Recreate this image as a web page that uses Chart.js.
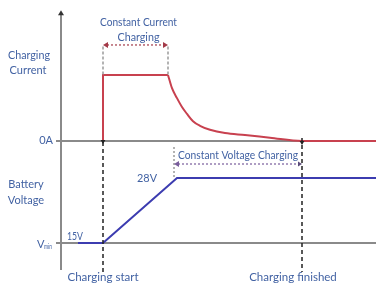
<!DOCTYPE html>
<html><head><meta charset="utf-8">
<script src="https://cdn.jsdelivr.net/npm/chart.js@4"></script>
<style>html,body{margin:0;padding:0;background:#fff}#wrap{width:376px;height:287px;position:relative}</style>
</head><body><div id="wrap"><canvas id="c"></canvas></div>
<script>
// ---- data (time in arbitrary units; 0 = vertical axis) ----
const stepTime = [21, 21, 53.5];
const stepAmps = [0, 10, 10];
const decayTime = [53.5, 55.5, 58, 60.5, 63, 66, 69.5, 74.5, 82, 92, 104.5, 120.5, 157.5];
const decayAmps = [10, 8.0, 6.5, 5.15, 4.1, 3.0, 2.3, 1.7, 1.2, 0.9, 0.5, 0, 0];
const voltageTime = [8.5, 21, 58, 157.5];
const voltageVolts = [15, 15, 28, 28];
const phaseNames = ['start', 'ccEnd', 'cvStart', 'finish'];
const phaseTimes = [21, 53.5, 56.5, 120.5];
const currentLevelLabels = ['0A'];
const voltageLevelLabels = ['15V', '28V'];
const panelLabels = [['Charging', 'Current'], ['Battery', 'Voltage']];
const phaseLabels = [['Constant Current', 'Charging'], ['Constant Voltage Charging']];
const eventLabels = ['Charging start', 'Charging finished'];

const phase = {};
phaseNames.forEach((n, i) => phase[n] = phaseTimes[i]);

const toXY = (xs, ys) => xs.map((x, i) => ({ x, y: ys[i] }));

const TEXT = '#4262a3';
const FONT = 'Lato, "Liberation Sans", sans-serif';

function arrowHead(ctx, x, y, dir, size, color) {
  ctx.save();
  ctx.fillStyle = color;
  ctx.beginPath();
  if (dir === 'left') { ctx.moveTo(x, y); ctx.lineTo(x + size, y - size * 0.6); ctx.lineTo(x + size, y + size * 0.6); }
  if (dir === 'right') { ctx.moveTo(x, y); ctx.lineTo(x - size, y - size * 0.6); ctx.lineTo(x - size, y + size * 0.6); }
  if (dir === 'up') { ctx.moveTo(x, y); ctx.lineTo(x - size * 0.6, y + size); ctx.lineTo(x + size * 0.6, y + size); }
  if (dir === 'down') { ctx.moveTo(x, y); ctx.lineTo(x - size * 0.6, y - size); ctx.lineTo(x + size * 0.6, y - size); }
  ctx.closePath(); ctx.fill();
  ctx.restore();
}
function seg(ctx, x1, y1, x2, y2, color, w, dash) {
  ctx.save();
  ctx.strokeStyle = color; ctx.lineWidth = w; ctx.setLineDash(dash || []);
  ctx.beginPath(); ctx.moveTo(x1, y1); ctx.lineTo(x2, y2); ctx.stroke();
  ctx.restore();
}
function text(ctx, s, x, y, align, size, maxW) {
  ctx.save();
  ctx.fillStyle = TEXT; ctx.font = size + 'px ' + FONT;
  ctx.textAlign = align || 'center'; ctx.textBaseline = 'middle';
  if (maxW) ctx.fillText(s, x, y, maxW); else ctx.fillText(s, x, y);
  ctx.restore();
}

const axesPlugin = {
  id: 'diagramAxes',
  beforeDatasetsDraw(chart) {
    const { ctx, scales: { x, yI, yV }, chartArea } = chart;
    const x0 = x.getPixelForValue(0);
    const gray = '#8a8a8a';
    seg(ctx, x0, yI.getPixelForValue(19.4), x0, yV.getPixelForValue(9.6), gray, 2);
    arrowHead(ctx, x0, yI.getPixelForValue(19.8), 'up', 5, '#333');
    const zy = yI.getPixelForValue(0), vy = yV.getPixelForValue(voltageVolts[0]);
    seg(ctx, x0 - 5, zy, chartArea.right, zy, gray, 2);
    seg(ctx, x0 - 5, vy, chartArea.right, vy, gray, 2);
  },
  afterDatasetsDraw(chart) {
    const { ctx, scales: { x, yI, yV } } = chart;
    const xs = x.getPixelForValue(phase.start), xc = x.getPixelForValue(phase.ccEnd);
    const xv = x.getPixelForValue(phase.cvStart), xf = x.getPixelForValue(phase.finish);
    const zy = yI.getPixelForValue(0), topI = yI.getPixelForValue(stepAmps[1]);
    const ccTop = yI.getPixelForValue(14.3), ccArrow = yI.getPixelForValue(14.55);
    const bottom = yV.getPixelForValue(9.2);
    const cvV = yV.getPixelForValue(voltageVolts[2]);
    const cvTop = yV.getPixelForValue(34.2), cvArrow = yV.getPixelForValue(30.8);
    const vy = yV.getPixelForValue(voltageVolts[0]);
    // CC marker
    seg(ctx, xs, ccTop, xs, topI, '#9a9a9a', 1.5, [3, 2]);
    seg(ctx, xc, ccTop, xc, topI, '#9a9a9a', 1.5, [3, 2]);
    seg(ctx, xs + 4, ccArrow, xc - 4, ccArrow, '#a33a48', 1.2, [2, 2]);
    arrowHead(ctx, xs, ccArrow, 'left', 5, '#a33a48');
    arrowHead(ctx, xc, ccArrow, 'right', 5, '#a33a48');
    // event lines
    seg(ctx, xs, zy + 1, xs, bottom, '#222', 1.5, [4, 3]);
    seg(ctx, xf, zy - 3, xf, bottom, '#222', 1.5, [4, 3]);
    arrowHead(ctx, xs, zy + 3, 'down', 4, '#222');
    arrowHead(ctx, xf, zy + 4, 'down', 4, '#222');
    // CV marker
    seg(ctx, xv, cvTop, xv, cvV, '#9a9a9a', 1.5, [2, 2]);
    seg(ctx, xv + 4, cvArrow, xf - 4, cvArrow, '#7a5e9c', 1.2, [2, 2]);
    arrowHead(ctx, xv, cvArrow, 'left', 5, '#7a5e9c');
    arrowHead(ctx, xf, cvArrow, 'right', 4, '#5a4a7a');
    // texts
    text(ctx, phaseLabels[0][0], (xs + xc) / 2 + 3, 22, 'center', 11, 77);
    text(ctx, phaseLabels[0][1], (xs + xc) / 2 + 3, 37, 'center', 11, 42);
    text(ctx, phaseLabels[1][0], (xv + xf) / 2, cvTop + 8, 'center', 11, 120);
    text(ctx, panelLabels[0][0], 29, 55, 'center', 11, 42);
    text(ctx, panelLabels[0][1], 28, 70, 'center', 11, 38);
    text(ctx, panelLabels[1][0], 26, 184, 'center', 11, 36);
    text(ctx, panelLabels[1][1], 26, 200, 'center', 11, 38);
    text(ctx, currentLevelLabels[0], x.getPixelForValue(-4), zy - 1, 'right', 11);
    text(ctx, voltageLevelLabels[1], xs + 44, cvV, 'center', 11, 20);
    text(ctx, voltageLevelLabels[0], x.getPixelForValue(7), vy - 7, 'center', 11, 16);
    ctx.save(); ctx.fillStyle = TEXT; ctx.textBaseline = 'middle'; ctx.textAlign = 'left';
    ctx.font = '11px ' + FONT; ctx.fillText('V', 37, vy + 1);
    ctx.font = '7px ' + FONT; ctx.fillText('min', 44, vy + 4, 8);
    ctx.restore();
    text(ctx, eventLabels[0], xs, 277, 'center', 11.5, 73);
    text(ctx, eventLabels[1], xf - 9, 277, 'center', 11.5, 91);
  }
};

const lineStyle = { showLine: true, pointRadius: 0, fill: false, borderWidth: 2 };

new Chart(document.getElementById('c'), {
  type: 'scatter',
  data: {
    datasets: [
      { label: 'Charging Current (CC)', data: toXY(stepTime, stepAmps), yAxisID: 'yI',
        ...lineStyle, borderColor: '#c8414f', tension: 0 },
      { label: 'Charging Current (CV)', data: toXY(decayTime, decayAmps), yAxisID: 'yI',
        ...lineStyle, borderColor: '#c8414f', cubicInterpolationMode: 'monotone' },
      { label: 'Battery Voltage', data: toXY(voltageTime, voltageVolts), yAxisID: 'yV',
        ...lineStyle, borderColor: '#3c3cb0', tension: 0 }
    ]
  },
  options: {
    responsive: true, maintainAspectRatio: false, animation: false,
    layout: { padding: 0 },
    plugins: { legend: { display: false }, tooltip: { enabled: false } },
    scales: {
      x: { type: 'linear', min: -30.5, max: 157.5, display: false },
      yI: { type: 'linear', min: -22.121, max: 21.364, display: false },
      yV: { type: 'linear', min: 6.2, max: 63.6, display: false }
    }
  },
  plugins: [axesPlugin]
});
</script>
</body></html>
